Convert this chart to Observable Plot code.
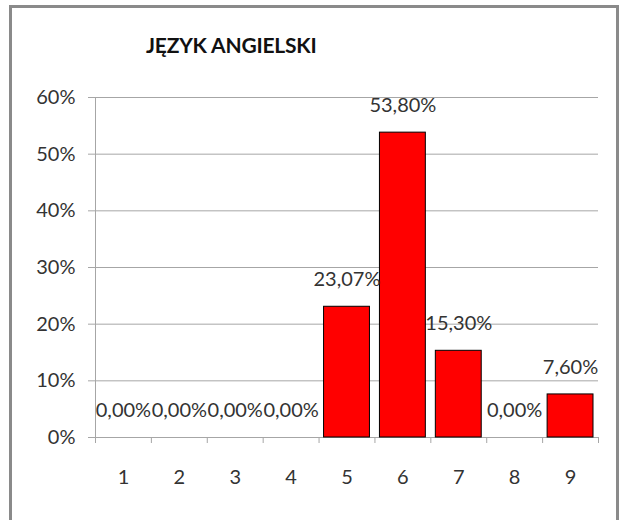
<!DOCTYPE html>
<html>
<head>
<meta charset="utf-8">
<script src="https://cdn.jsdelivr.net/npm/d3@7"></script>
<script src="https://cdn.jsdelivr.net/npm/@observablehq/plot@0.6"></script>
<style>
  html, body { margin: 0; padding: 0; background: #fff; overflow: hidden; }
  #page { position: relative; width: 625px; height: 520px; overflow: hidden; }
  #frame { position: absolute; left: 9px; top: 5px; width: 604px; height: 540px; border: 3px solid #8a8a8a; }
  #title { position: absolute; left: 146px; top: 32px; font-family: Lato, "DejaVu Sans Condensed", sans-serif; font-weight: bold; font-size: 21px; color: #111; letter-spacing: -0.2px; }
  #chart { position: absolute; left: 0; top: 0; }
</style>
</head>
<body>
<div id="page">
  <div id="frame"></div>
  <div id="title">JĘZYK ANGIELSKI</div>
  <div id="chart"></div>
</div>
<script>
const categories = [1, 2, 3, 4, 5, 6, 7, 8, 9];
const values = [0, 0, 0, 0, 23.07, 53.80, 15.30, 0, 7.60];
const yTicks = [0, 10, 20, 30, 40, 50, 60];
const boundaries = [0.5, 1.5, 2.5, 3.5, 4.5, 5.5, 6.5, 7.5, 8.5, 9.5];

const data = categories.map((c, i) => ({cat: c, value: values[i]}));
const fmt = v => v.toFixed(2).replace(".", ",") + "%";

const grid = "#a6a6a6";
const ink = "#333";
const font = "Lato, 'DejaVu Sans Condensed', sans-serif";

const chart = Plot.plot({
  width: 625,
  height: 520,
  marginLeft: 95,
  marginRight: 27,
  marginTop: 97,
  marginBottom: 83,
  style: {fontFamily: font, fontSize: "20px", color: ink, background: "transparent"},
  x: {domain: [0.5, 9.5]},
  y: {domain: [0, 60]},
  marks: [
    Plot.gridY(yTicks, {stroke: grid, strokeOpacity: 1, strokeWidth: 1}),
    Plot.axisY(yTicks, {tickFormat: d => d + "%", tickSize: 7, tickPadding: 13, stroke: grid, fontSize: 20, fill: ink, label: null}),
    Plot.axisX(boundaries, {tickFormat: () => "", tickSize: 6, stroke: grid, label: null}),
    Plot.axisX(categories, {tickSize: 0, tickPadding: 32, fontSize: 20, fill: ink, label: null}),
    Plot.ruleX([0.5], {stroke: grid, strokeWidth: 1}),
    Plot.ruleY([0], {stroke: grid, strokeWidth: 1}),
    Plot.rectY(data, {
      x1: d => d.cat - 0.5,
      x2: d => d.cat + 0.5,
      y: "value",
      insetLeft: 5,
      insetRight: 5,
      fill: "#ff0000",
      stroke: "#000",
      strokeWidth: 1
    }),
    Plot.text(data, {
      x: "cat",
      y: "value",
      text: d => fmt(d.value),
      dy: -27,
      fontSize: 20,
      fill: ink
    })
  ]
});
document.getElementById("chart").appendChild(chart);
</script>
</body>
</html>
